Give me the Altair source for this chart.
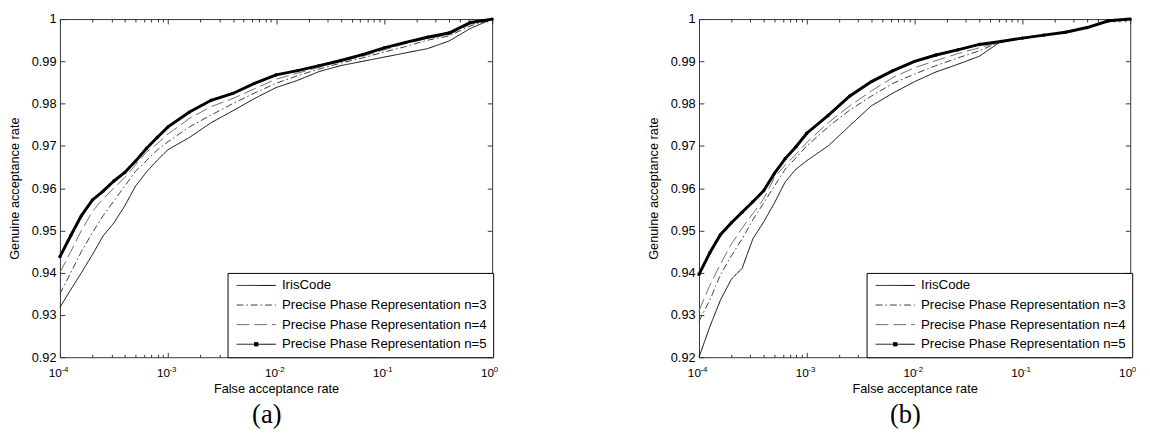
import altair as alt
import pandas as pd

# ---------------- data ----------------
FAR = [1.0e-4, 1.26e-4, 1.58e-4, 2.0e-4, 2.51e-4, 3.16e-4, 3.98e-4, 5.01e-4,
       6.31e-4, 7.94e-4, 1.0e-3, 1.58e-3, 2.51e-3, 3.98e-3, 6.31e-3, 1.0e-2,
       1.58e-2, 2.51e-2, 3.98e-2, 6.31e-2, 1.0e-1, 0.158, 0.251, 0.398, 0.631, 1.0]

SERIES = ["IrisCode",
          "Precise Phase Representation n=3",
          "Precise Phase Representation n=4",
          "Precise Phase Representation n=5"]

# panel (a)
A_IRIS = [0.9318, 0.9360, 0.9400, 0.9443, 0.9487, 0.9518, 0.9558, 0.9605, 0.9638, 0.9666,
          0.9691, 0.9720, 0.9755, 0.9783, 0.9812, 0.9838, 0.9855, 0.9876, 0.9890, 0.9900,
          0.9910, 0.9920, 0.9930, 0.9948, 0.9978, 1.0]
A_N3 = [0.9350, 0.9400, 0.9450, 0.9495, 0.9535, 0.9570, 0.9605, 0.9640, 0.9665, 0.9690,
        0.9710, 0.9745, 0.9773, 0.9800, 0.9825, 0.9848, 0.9866, 0.9882, 0.9896, 0.9908,
        0.9922, 0.9935, 0.9950, 0.9960, 0.9984, 1.0]
A_N4 = [0.9400, 0.9450, 0.9500, 0.9545, 0.9575, 0.9600, 0.9625, 0.9655, 0.9685, 0.9705,
        0.9728, 0.9765, 0.9793, 0.9812, 0.9835, 0.9858, 0.9872, 0.9886, 0.9900, 0.9912,
        0.9927, 0.9942, 0.9954, 0.9963, 0.9988, 1.0]
A_N5 = [0.9438, 0.9488, 0.9535, 0.9572, 0.9593, 0.9617, 0.9637, 0.9664, 0.9694, 0.9720,
        0.9745, 0.9780, 0.9808, 0.9824, 0.9848, 0.9868, 0.9878, 0.9890, 0.9902, 0.9916,
        0.9932, 0.9945, 0.9957, 0.9967, 0.9992, 1.0]

# panel (b)
B_IRIS = [0.9200, 0.9272, 0.9335, 0.9385, 0.9410, 0.9480, 0.9520, 0.9565, 0.9615, 0.9645,
          0.9665, 0.9700, 0.9748, 0.9795, 0.9825, 0.9852, 0.9875, 0.9893, 0.9912, 0.9947,
          0.9955, 0.9962, 0.9969, 0.9980, 0.9996, 1.0]
B_N3 = [0.9285, 0.9335, 0.9395, 0.9440, 0.9480, 0.9525, 0.9565, 0.9605, 0.9645, 0.9672,
        0.9700, 0.9745, 0.9785, 0.9818, 0.9848, 0.9870, 0.9890, 0.9908, 0.9925, 0.9947,
        0.9955, 0.9962, 0.9969, 0.9980, 0.9996, 1.0]
B_N4 = [0.9310, 0.9370, 0.9420, 0.9468, 0.9505, 0.9540, 0.9575, 0.9625, 0.9655, 0.9680,
        0.9708, 0.9755, 0.9795, 0.9830, 0.9862, 0.9885, 0.9902, 0.9918, 0.9932, 0.9947,
        0.9955, 0.9962, 0.9969, 0.9980, 0.9996, 1.0]
B_N5 = [0.9396, 0.9447, 0.9490, 0.9518, 0.9543, 0.9568, 0.9594, 0.9635, 0.9670, 0.9698,
        0.9730, 0.9772, 0.9818, 0.9852, 0.9878, 0.9900, 0.9915, 0.9927, 0.9940, 0.9947,
        0.9955, 0.9962, 0.9969, 0.9980, 0.9996, 1.0]

X_MAJOR = [1e-4, 1e-3, 1e-2, 1e-1, 1.0]
X_MINOR = [m * 10.0 ** k for k in (-4, -3, -2, -1) for m in range(2, 10)]
Y_TICKS = [0.92, 0.93, 0.94, 0.95, 0.96, 0.97, 0.98, 0.99, 1.0]
CAPTIONS = ["(a)", "(b)"]

# ---------------- styles ----------------
COLORS = ["#000000", "#3a3a3a", "#6e6e6e", "#000000"]
DASHES = [[1, 0], [7, 3, 1.5, 3], [13, 5], [1, 0]]
LINE_PATH = "M-4,0L4,0"
DOT_PATH = "M-4,0L4,0M-0.35,-0.35L0.35,-0.35L0.35,0.35L-0.35,0.35Z"
SHAPES = [LINE_PATH, LINE_PATH, LINE_PATH, DOT_PATH]
FONT = "Liberation Sans"


def make_df(vals):
    rows = []
    for name, ys in zip(SERIES, vals):
        for f, g in zip(FAR, ys):
            rows.append({"far": f, "gar": g, "series": name})
    return pd.DataFrame(rows)


def panel(df, caption, width):
    base = alt.Chart(df)
    xs = alt.Scale(type="log", domain=[1e-4, 1.0], nice=False)
    ys = alt.Scale(domain=[0.92, 1.0], nice=False, zero=False)
    s_stroke = alt.Scale(domain=SERIES, range=COLORS)
    s_dash = alt.Scale(domain=SERIES, range=DASHES)
    s_shape = alt.Scale(domain=SERIES, range=SHAPES)

    ax_bottom = alt.Axis(orient="bottom", values=X_MAJOR, labelExpr="'10'",
                         offset=-5, tickSize=5, labelPadding=11, labelOffset=1.5,
                         labelAlign="right", labelFontSize=12,
                         labelFlush=False, labelOverlap=False,
                         title="False acceptance rate", titlePadding=3,
                         minExtent=28, maxExtent=28)
    ax_exp = alt.Axis(orient="bottom", values=X_MAJOR,
                      labelExpr="'' + round(log(datum.value) / LN10)",
                      offset=-5, tickSize=5, tickOpacity=0, labelPadding=8.5,
                      labelOffset=1, labelAlign="left", labelFontSize=8,
                      labelFlush=False, labelOverlap=False, title=None,
                      minExtent=0, maxExtent=20)
    ax_bminor = alt.Axis(orient="bottom", values=X_MINOR, labels=False,
                         offset=-3, tickSize=3, title=None, minExtent=0, maxExtent=0)
    ax_top = alt.Axis(orient="top", values=X_MAJOR, labels=False,
                      offset=-5, tickSize=5, title=None, minExtent=0, maxExtent=0)
    ax_tminor = alt.Axis(orient="top", values=X_MINOR, labels=False,
                         offset=-3, tickSize=3, title=None, minExtent=0, maxExtent=0)
    ax_left = alt.Axis(orient="left", values=Y_TICKS, format=".2~f",
                       offset=-5, tickSize=5, labelPadding=4, labelFlush=False,
                       title="Genuine acceptance rate", titlePadding=10,
                       minExtent=34, maxExtent=34)
    ax_right = alt.Axis(orient="right", values=Y_TICKS, labels=False,
                        offset=-5, tickSize=5, title=None, minExtent=0, maxExtent=0)

    leg = alt.Legend(title=None, orient="none", legendX=171, legendY=259,
                     strokeColor="#000000", fillColor="white", padding=6,
                     cornerRadius=0, labelFont=FONT, labelFontSize=13.5,
                     labelColor="#000000", labelLimit=400, symbolSize=100,
                     symbolStrokeWidth=1, symbolOpacity=1, symbolOffset=16.5,
                     labelOffset=19.5, rowPadding=5)

    lines = base.mark_line(strokeWidth=1).encode(
        x=alt.X("far:Q", scale=xs, axis=ax_bottom),
        y=alt.Y("gar:Q", scale=ys, axis=ax_left),
        stroke=alt.Stroke("series:N", scale=s_stroke, legend=leg),
        strokeDash=alt.StrokeDash("series:N", scale=s_dash, legend=leg),
    )
    n5 = base.transform_filter(alt.datum.series == SERIES[3])
    thick = n5.mark_line(strokeWidth=3, color="#000000").encode(
        x=alt.X("far:Q", scale=xs, axis=ax_exp),
        y=alt.Y("gar:Q", scale=ys, axis=ax_right),
    )
    dots = n5.mark_point(filled=True, size=12, color="#000000", opacity=1,
                         shape="circle").encode(
        x=alt.X("far:Q", scale=xs, axis=ax_bminor),
        y=alt.Y("gar:Q", scale=ys, axis=None),
    )
    legend_layer = base.mark_point(filled=True, color="#000000", opacity=0).encode(
        x=alt.X("far:Q", scale=xs, axis=ax_top),
        y=alt.Y("gar:Q", scale=ys, axis=None),
        stroke=alt.Stroke("series:N", scale=s_stroke, legend=leg),
        strokeDash=alt.StrokeDash("series:N", scale=s_dash, legend=leg),
        shape=alt.Shape("series:N", scale=s_shape, legend=leg),
    )
    top_minor = base.mark_point(opacity=0).encode(
        x=alt.X("far:Q", scale=xs, axis=ax_tminor),
        y=alt.Y("gar:Q", scale=ys, axis=None),
    )
    return alt.layer(lines, thick, dots, legend_layer, top_minor).resolve_axis(
        x="independent", y="independent"
    ).properties(
        width=width, height=345,
        title=alt.TitleParams(text=caption, orient="bottom", font="Liberation Serif",
                              fontSize=27, fontWeight="normal", color="#000000",
                              anchor="middle", frame="group", dx=-9.5, offset=7),
    )


left = panel(make_df([A_IRIS, A_N3, A_N4, A_N5]), CAPTIONS[0], 441)
right = panel(make_df([B_IRIS, B_N3, B_N4, B_N5]), CAPTIONS[1], 440)

chart = alt.hconcat(left, right, spacing=146).resolve_scale(
    stroke="independent", strokeDash="independent", shape="independent"
).properties(
    padding={"left": 0, "top": 0, "right": 0, "bottom": 0}
).configure_view(
    stroke="#333333", strokeWidth=1
).configure_axis(
    domain=False, grid=False, labelFont=FONT, labelFontSize=13, labelColor="#000000",
    titleFont=FONT, titleFontSize=13, titleFontWeight="normal", titleColor="#000000",
    tickColor="#333333", tickWidth=1
)

chart.save("out.html", embed_options={"renderer": "svg", "actions": False})
